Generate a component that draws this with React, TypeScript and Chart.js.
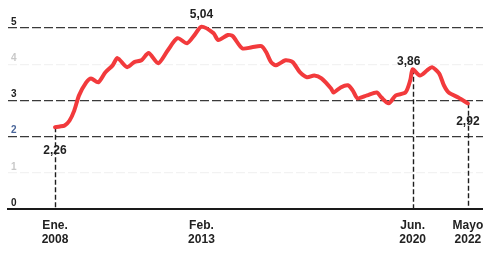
import React, { useEffect, useRef } from "react";
import { Chart, registerables } from "chart.js";

Chart.register(...registerables);

// months since Jan 2008
const months = [0, 2, 4, 6, 8, 10, 13, 15, 18, 21, 24, 26, 30, 33, 36, 39, 43, 47, 51, 55, 58, 61, 66, 68, 72, 74, 78, 82, 86, 88, 90, 92, 96, 99, 102, 105, 108, 111, 115, 116, 119, 122, 124, 126, 130, 134, 136, 139, 142, 146, 148, 149, 152, 155, 157, 160, 162, 164, 168, 172];
const values = [2.26, 2.28, 2.31, 2.44, 2.72, 3.14, 3.5, 3.61, 3.5, 3.78, 3.97, 4.17, 3.92, 4.06, 4.11, 4.31, 4.03, 4.39, 4.72, 4.58, 4.8, 5.04, 4.86, 4.67, 4.81, 4.78, 4.44, 4.47, 4.5, 4.33, 4.06, 3.97, 4.11, 4.06, 3.78, 3.64, 3.69, 3.61, 3.33, 3.22, 3.36, 3.42, 3.28, 3.06, 3.14, 3.22, 3.08, 2.92, 3.14, 3.22, 3.56, 3.86, 3.69, 3.83, 3.92, 3.75, 3.42, 3.22, 3.08, 2.92];

const tickMonths = [0, 61, 149, 172];
const tickLabels = [["Ene.", "2008"], ["Feb.", "2013"], ["Jun.", "2020"], ["Mayo", "2022"]];

const yTicks = [0, 1, 2, 3, 4, 5];
const yStrong = [0, 2, 3, 5];

const noteMonths = [0, 61, 149, 172];
const noteValues = [2.26, 5.04, 3.86, 2.92];
const noteTexts = ["2,26", "5,04", "3,86", "2,92"];
const dropMonths = [0, 149, 172];
const dropValues = [2.26, 3.86, 2.92];

const FONT = "'Liberation Sans', Arial, sans-serif";

const overlay = {
  id: "overlay",
  beforeDatasetsDraw(chart: any) {
    const { ctx, scales } = chart;
    const x = scales.x, y = scales.y;
    ctx.save();
    ctx.strokeStyle = "#1e1e1e";
    ctx.lineWidth = 1.4;
    ctx.setLineDash([5, 2.5]);
    dropMonths.forEach((m, i) => {
      const px = Math.round(x.getPixelForValue(m)) + 0.5;
      const top = y.getPixelForValue(dropValues[i]);
      ctx.beginPath();
      ctx.moveTo(px, top);
      ctx.lineTo(px, y.getPixelForValue(0));
      ctx.stroke();
    });
    ctx.restore();
  },
  afterDatasetsDraw(chart: any) {
    const { ctx, scales } = chart;
    const x = scales.x, y = scales.y;
    ctx.save();
    // y labels
    ctx.font = `bold 10px ${FONT}`;
    ctx.textAlign = "left";
    ctx.textBaseline = "middle";
    yTicks.forEach((v) => {
      ctx.fillStyle = yStrong.includes(v) ? (v === 2 ? "#4a669a" : "#222") : "#c8c8c8";
      ctx.fillText(String(v), 11, y.getPixelForValue(v) - 6);
    });
    // value notes
    ctx.font = `bold 12px ${FONT}`;
    ctx.textAlign = "center";
    ctx.fillStyle = "#222";
    const offs = [-23, 12, 8, -18];
    noteMonths.forEach((m, i) => {
      const px = x.getPixelForValue(m) + (i === 2 ? -4 : 0);
      ctx.fillText(noteTexts[i], px, y.getPixelForValue(noteValues[i]) - offs[i]);
    });
    // x labels
    const base = y.getPixelForValue(0);
    tickMonths.forEach((m, i) => {
      const px = x.getPixelForValue(m);
      ctx.fillText(tickLabels[i][0], px, base + 17);
      ctx.fillText(tickLabels[i][1], px, base + 31);
    });
    ctx.restore();
  },
};

export default function App() {
  const ref = useRef<HTMLCanvasElement | null>(null);
  useEffect(() => {
    if (!ref.current) return;
    const chart = new Chart(ref.current, {
      type: "line",
      data: {
        datasets: [
          {
            data: months.map((m, i) => ({ x: m, y: values[i] })),
            borderColor: "rgb(242,58,60)",
            borderWidth: 4,
            pointRadius: 0,
            tension: 0.25,
            borderCapStyle: "round",
            borderJoinStyle: "round",
          },
        ],
      },
      options: {
        animation: false,
        responsive: true,
        maintainAspectRatio: false,
        layout: { padding: { left: 8, right: 0, top: 10, bottom: 44 } },
        plugins: { legend: { display: false }, tooltip: { enabled: false } },
        scales: {
          x: {
            type: "linear",
            min: -19.6,
            max: 178.3,
            afterBuildTicks: (s: any) => {
              s.ticks = tickMonths.map((v) => ({ value: v }));
            },
            ticks: { display: false },
            grid: { display: false, drawTicks: false },
            border: { display: true, color: "#1a1a1a", width: 2 },
          },
          y: {
            min: 0,
            max: 5.5,
            afterBuildTicks: (s: any) => {
              s.ticks = yTicks.map((v) => ({ value: v }));
            },
            ticks: { display: false },
            grid: {
              drawTicks: false,
              lineWidth: 1.2,
              color: (c: any) => {
                const v = c.tick ? c.tick.value : -1;
                if (v === 0) return "rgba(0,0,0,0)";
                if (yStrong.includes(v)) return "#3a3a3a";
                return "rgba(0,0,0,0.05)";
              },
            },
            border: { display: false, dash: [9, 3] },
          },
        },
      },
      plugins: [overlay],
    });
    return () => chart.destroy();
  }, []);
  return (
    <div style={{ position: "absolute", left: 0, top: 0, width: 483, height: 253, background: "#fff" }}>
      <canvas ref={ref} />
    </div>
  );
}
